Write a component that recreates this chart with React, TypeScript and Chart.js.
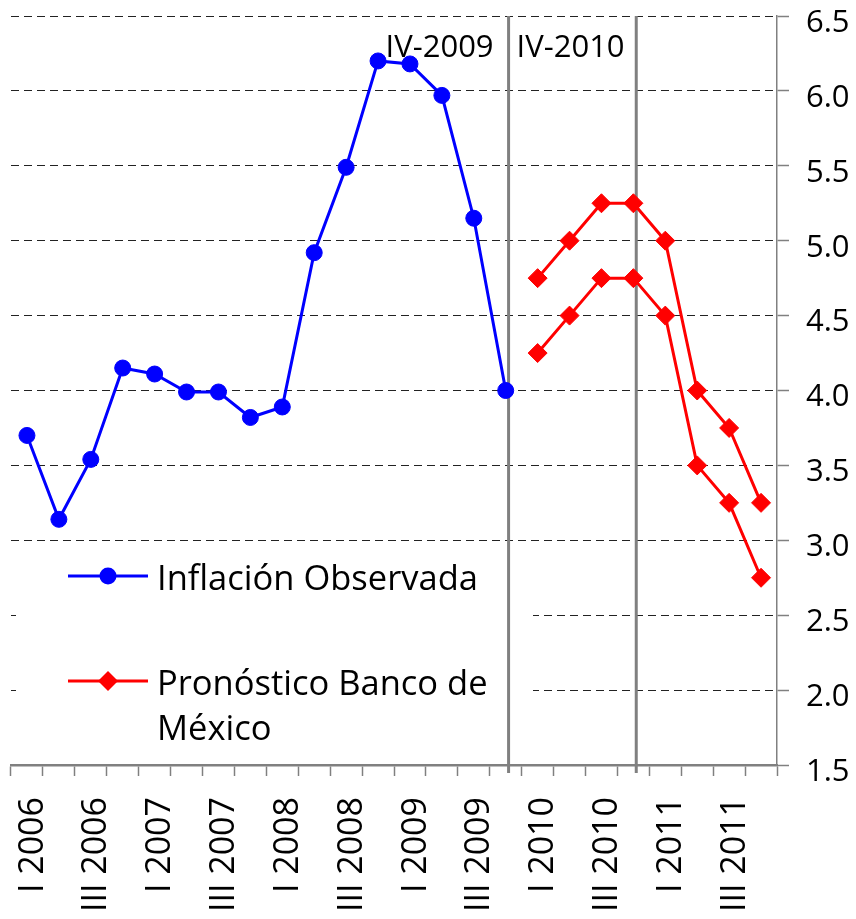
import React, { useEffect, useRef } from "react";
import { Chart, registerables } from "chart.js";

Chart.register(...registerables);

const categories = [
  "I 2006", "II 2006", "III 2006", "IV 2006",
  "I 2007", "II 2007", "III 2007", "IV 2007",
  "I 2008", "II 2008", "III 2008", "IV 2008",
  "I 2009", "II 2009", "III 2009", "IV 2009",
  "I 2010", "II 2010", "III 2010", "IV 2010",
  "I 2011", "II 2011", "III 2011", "IV 2011",
];

const observed = [
  3.70, 3.14, 3.54, 4.15, 4.11, 3.99, 3.99, 3.82,
  3.89, 4.92, 5.49, 6.20, 6.18, 5.97, 5.15, 4.00,
  null, null, null, null, null, null, null, null,
];

const forecastHigh = [
  null, null, null, null, null, null, null, null,
  null, null, null, null, null, null, null, null,
  4.75, 5.0, 5.25, 5.25, 5.0, 4.0, 3.75, 3.25,
];

const forecastLow = [
  null, null, null, null, null, null, null, null,
  null, null, null, null, null, null, null, null,
  4.25, 4.5, 4.75, 4.75, 4.5, 3.5, 3.25, 2.75,
];

const yTicks = [1.5, 2.0, 2.5, 3.0, 3.5, 4.0, 4.5, 5.0, 5.5, 6.0, 6.5];

const markerIndexes = [15, 19];
const markerLabels = ["IV-2009", "IV-2010"];

const legendObserved = "Inflación Observada";
const legendForecast = ["Pronóstico Banco de", "México"];

const FONT = "'Open Sans', sans-serif";

const overlayPlugin = {
  id: "overlay",
  beforeDatasetsDraw(chart: any) {
    const { ctx, chartArea, scales } = chart;
    const xs = scales.x;
    const step = xs.getPixelForValue(1) - xs.getPixelForValue(0);
    ctx.save();
    // legend background box (hides grid lines)
    ctx.fillStyle = "#ffffff";
    ctx.fillRect(chartArea.left + 5, 547, 517, chartArea.bottom - 3 - 547);

    // vertical marker lines
    ctx.strokeStyle = "#808080";
    ctx.lineWidth = 3;
    markerIndexes.forEach((idx) => {
      const x = xs.getPixelForValue(idx) + 0.09 * step;
      ctx.beginPath();
      ctx.moveTo(x, chartArea.top);
      ctx.lineTo(x, chartArea.bottom + 8);
      ctx.stroke();
    });

    // marker labels
    ctx.fillStyle = "#000000";
    ctx.font = `31px ${FONT}`;
    ctx.textBaseline = "alphabetic";
    const x1 = xs.getPixelForValue(markerIndexes[0]) + 0.09 * step;
    ctx.textAlign = "right";
    ctx.fillText(markerLabels[0], x1 - 15, chartArea.top + 41);
    ctx.textAlign = "left";
    ctx.fillText(markerLabels[1], x1 + 8, chartArea.top + 41);

    // legend
    const lx0 = chartArea.left + 57;
    const lx1 = chartArea.left + 137;
    const lmid = (lx0 + lx1) / 2;
    ctx.lineWidth = 3;
    ctx.strokeStyle = "#0000ff";
    ctx.beginPath();
    ctx.moveTo(lx0, 576);
    ctx.lineTo(lx1, 576);
    ctx.stroke();
    ctx.fillStyle = "#0000ff";
    ctx.beginPath();
    ctx.arc(lmid, 576, 8.5, 0, Math.PI * 2);
    ctx.fill();

    ctx.strokeStyle = "#ff0000";
    ctx.beginPath();
    ctx.moveTo(lx0, 681);
    ctx.lineTo(lx1, 681);
    ctx.stroke();
    ctx.fillStyle = "#ff0000";
    ctx.beginPath();
    ctx.moveTo(lmid - 10, 681);
    ctx.lineTo(lmid, 671);
    ctx.lineTo(lmid + 10, 681);
    ctx.lineTo(lmid, 691);
    ctx.closePath();
    ctx.fill();

    ctx.fillStyle = "#000000";
    ctx.font = `34.5px ${FONT}`;
    ctx.textAlign = "left";
    ctx.fillText(legendObserved, lx1 + 9, 590);
    ctx.fillText(legendForecast[0], lx1 + 9, 695);
    ctx.fillText(legendForecast[1], lx1 + 9, 740);
    ctx.restore();
  },
};

export default function App() {
  const ref = useRef<HTMLCanvasElement | null>(null);

  useEffect(() => {
    if (!ref.current) return;
    const chart = new Chart(ref.current, {
      type: "line",
      data: {
        labels: categories,
        datasets: [
          {
            label: legendObserved,
            data: observed,
            borderColor: "#0000ff",
            backgroundColor: "#0000ff",
            borderWidth: 3,
            pointStyle: "circle",
            pointRadius: 8,
            pointBorderWidth: 1,
            spanGaps: false,
          },
          {
            label: legendForecast.join(" "),
            data: forecastHigh,
            borderColor: "#ff0000",
            backgroundColor: "#ff0000",
            borderWidth: 3,
            pointStyle: "rectRot",
            pointRadius: 9.5,
            pointBorderWidth: 1,
          },
          {
            label: legendForecast.join(" ") + " ",
            data: forecastLow,
            borderColor: "#ff0000",
            backgroundColor: "#ff0000",
            borderWidth: 3,
            pointStyle: "rectRot",
            pointRadius: 9.5,
            pointBorderWidth: 1,
          },
        ],
      },
      options: {
        responsive: false,
        animation: false,
        devicePixelRatio: 1,
        layout: { padding: { left: 11, top: 16, right: 0, bottom: 0 } },
        plugins: {
          legend: { display: false },
          tooltip: { enabled: false },
        },
        scales: {
          x: {
            type: "category",
            offset: true,
            grid: {
              offset: true,
              drawOnChartArea: false,
              drawTicks: true,
              tickLength: 11,
              tickColor: "#808080",
              tickWidth: 1.5,
            },
            border: { display: true, color: "#808080", width: 2.5 },
            ticks: {
              autoSkip: false,
              minRotation: 90,
              maxRotation: 90,
              padding: 21,
              labelOffset: 6,
              color: "#000000",
              font: { family: FONT, size: 34 },
              callback: (_v: any, i: number) => (i % 2 === 0 ? categories[i] : ""),
            },
            afterFit: (s: any) => {
              s.height = 154;
              s.paddingLeft = 0;
              s.paddingRight = 0;
            },
          },
          y: {
            type: "linear",
            position: "right",
            min: yTicks[0],
            max: yTicks[yTicks.length - 1],
            afterBuildTicks: (s: any) => {
              s.ticks = yTicks.map((v) => ({ value: v }));
            },
            grid: {
              color: "#222222",
              lineWidth: 1,
              drawTicks: true,
              tickLength: 12,
              tickColor: "#808080",
              tickWidth: 1.5,
            },
            border: { display: true, color: "#808080", width: 1.5, dash: [8, 5] },
            ticks: {
              padding: 17,
              labelOffset: 7,
              color: "#000000",
              font: { family: FONT, size: 31 },
              callback: (v: any) => Number(v).toFixed(1),
            },
            afterFit: (s: any) => {
              s.width = 79;
              s.paddingTop = 0;
              s.paddingBottom = 0;
            },
          },
        },
      },
      plugins: [overlayPlugin],
    });
    return () => chart.destroy();
  }, []);

  return (
    <div style={{ position: "fixed", left: 0, top: 0, width: 856, height: 919, background: "#fff" }}>
      <canvas ref={ref} width={856} height={919} style={{ display: "block" }} />
    </div>
  );
}
